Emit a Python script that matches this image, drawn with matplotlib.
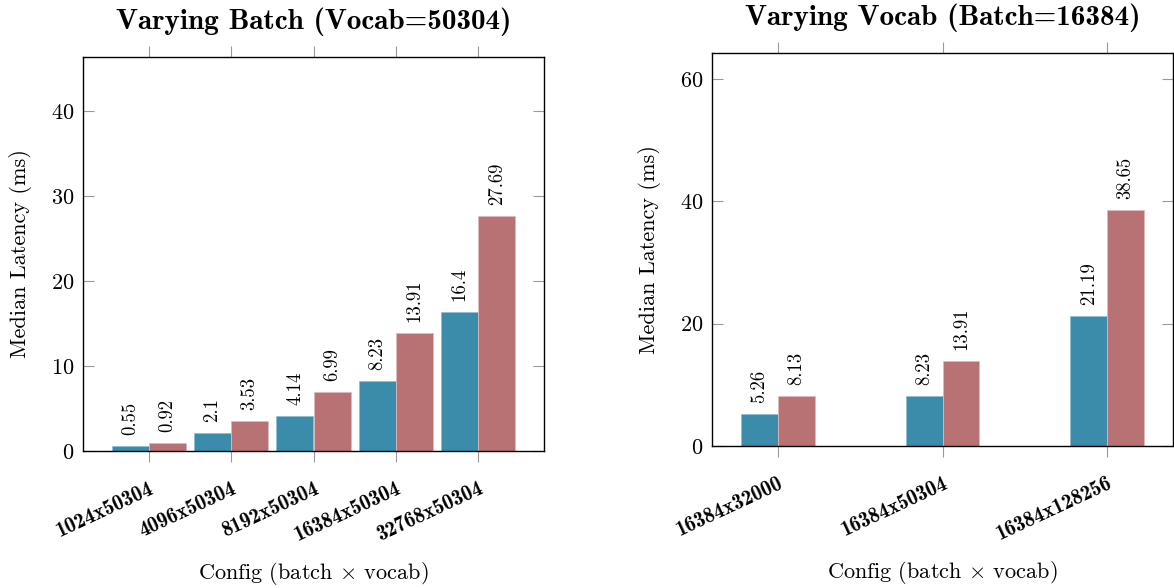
import numpy as np
import matplotlib
matplotlib.use("Agg")
import matplotlib.pyplot as plt

plt.rcParams["font.family"] = ["cmr10", "DejaVu Serif"]
plt.rcParams["mathtext.fontset"] = "cm"
plt.rcParams["axes.formatter.use_mathtext"] = True

# Median latency per config, two implementations each
batch_configs = ["1024x50304", "4096x50304", "8192x50304", "16384x50304", "32768x50304"]
batch_a = [0.55, 2.1, 4.14, 8.23, 16.4]
batch_b = [0.92, 3.53, 6.99, 13.91, 27.69]

vocab_configs = ["16384x32000", "16384x50304", "16384x128256"]
vocab_a = [5.26, 8.23, 21.19]
vocab_b = [8.13, 13.91, 38.65]

teal = "#3b8cab"
rose = "#b87274"
tick_gray = "#999999"

fig = plt.figure(figsize=(11.74, 5.88), dpi=100)
ax1 = fig.add_axes([83 / 1174, 137 / 588, 461 / 1174, 394 / 588])
ax2 = fig.add_axes([712 / 1174, 142 / 588, 461 / 1174, 393 / 588])


def draw_panel(ax, configs, a, b, width, xlim, ylim, yticks, title):
    x = np.arange(len(configs))
    ax.bar(x - width / 2, a, width, color=teal, edgecolor="#8fc0d3", linewidth=0.6, zorder=2)
    ax.bar(x + width / 2, b, width, color=rose, edgecolor="#e0b8b9", linewidth=0.6, zorder=2)
    pad = (ylim[1] - ylim[0]) * 0.028
    for xi, v in zip(x - width / 2, a):
        ax.text(xi, v + pad, f"{v:g}", rotation=90, ha="center", va="bottom", fontsize=13.5)
    for xi, v in zip(x + width / 2, b):
        ax.text(xi, v + pad, f"{v:g}", rotation=90, ha="center", va="bottom", fontsize=13.5)

    ax.set_xlim(*xlim)
    ax.set_ylim(*ylim)
    ax.set_yticks(yticks)
    ax.set_xticks(x)
    ax.set_xticklabels(configs, rotation=25, ha="right", rotation_mode="anchor",
                       fontfamily="cmb10", fontsize=15)
    ax.tick_params(axis="x", which="both", direction="out", length=8, width=0.8,
                   color=tick_gray, top=True, bottom=True, labeltop=False, pad=12)
    ax.tick_params(axis="y", which="both", direction="in", length=8, width=0.8,
                   color=tick_gray, left=True, right=True, labelright=False,
                   labelsize=16, pad=6)
    for s in ax.spines.values():
        s.set_linewidth(1.0)
        s.set_color("black")
    ax.set_ylabel("Median Latency (ms)", fontsize=16, labelpad=14)
    ax.set_xlabel(r"Config (batch $\times$ vocab)", fontsize=16, labelpad=11)
    ax.set_title(title, fontfamily="cmb10", fontsize=21, pad=20)


draw_panel(ax1, batch_configs, batch_a, batch_b, 0.45, (-0.8, 4.8), (0, 46.35),
           [0, 10, 20, 30, 40], "Varying Batch (Vocab=50304)")
draw_panel(ax2, vocab_configs, vocab_a, vocab_b, 0.224, (-0.4, 2.4), (0, 64.25),
           [0, 20, 40, 60], "Varying Vocab (Batch=16384)")

fig.savefig("out.png", dpi=100)
